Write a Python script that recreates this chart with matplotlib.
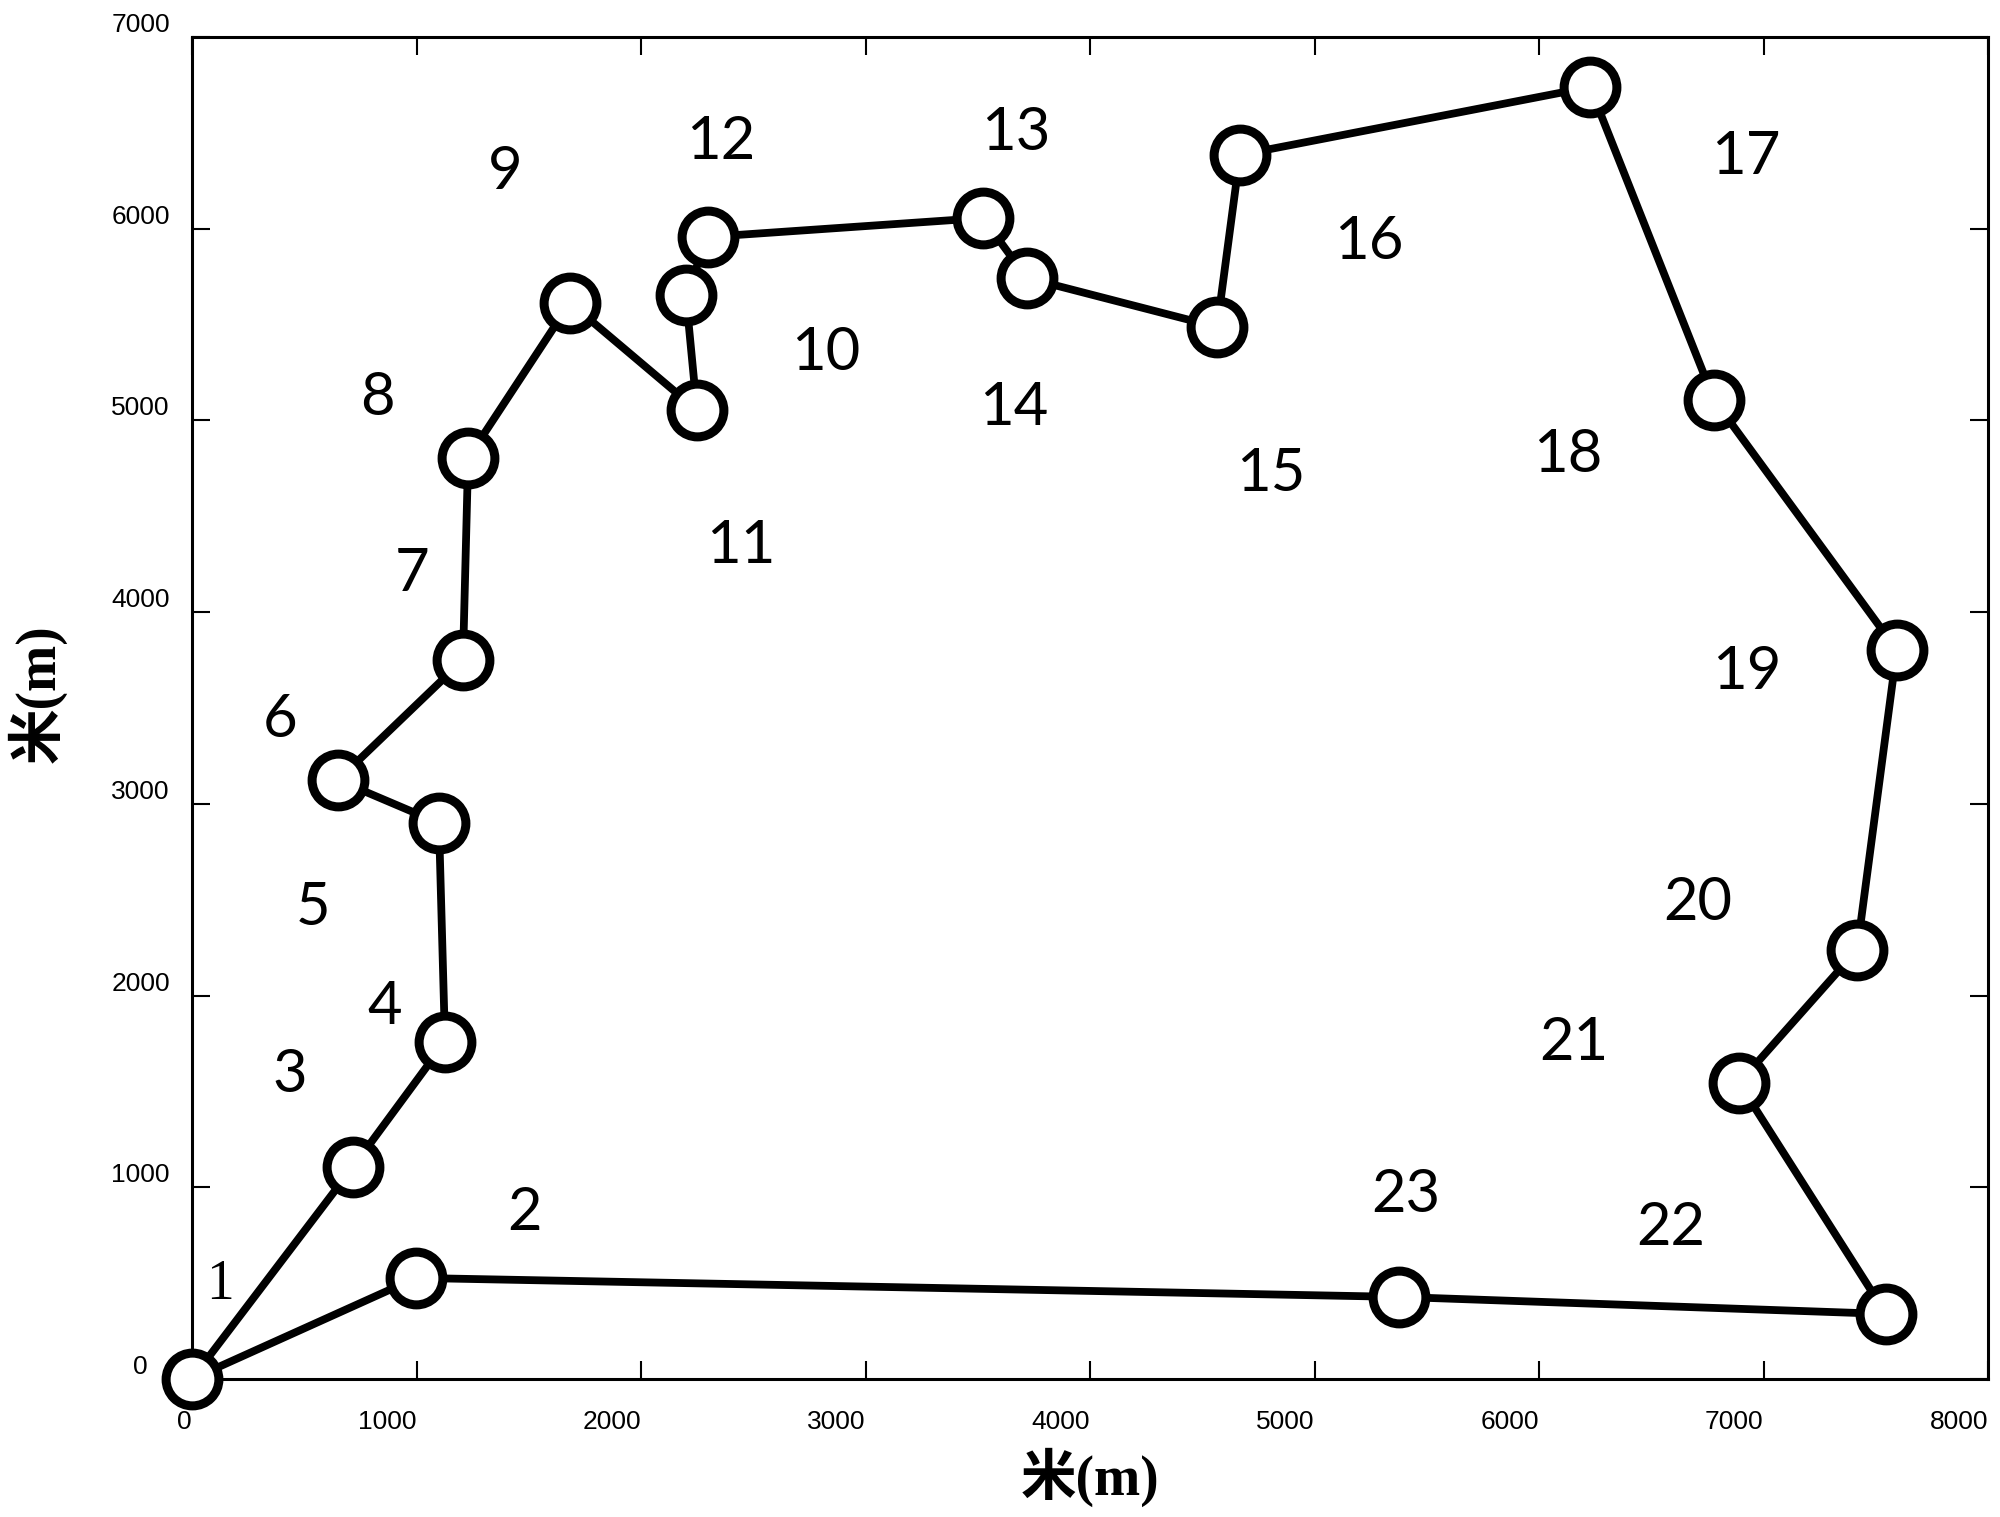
import matplotlib
matplotlib.use("Agg")
import matplotlib.pyplot as plt

# route: coordinates of the 23 nodes (m), in visiting order
node_x = [0, 717, 1127, 1100, 650, 1207, 1230, 1684, 2249, 2200, 2299, 3523,
          3719, 4566, 4668, 6227, 6780, 7594, 7417, 6891, 7546, 5377, 998]
node_y = [0, 1106, 1758, 2900, 3124, 3750, 4804, 5613, 5054, 5654, 5957, 6056,
          5743, 5487, 6385, 6739, 5107, 3803, 2238, 1544, 339, 428, 527]

# number labels and where they sit (m)
labels = [str(i) for i in range(1, 24)]
label_x = [125, 1483, 437, 860, 539, 392, 980, 825, 1394, 2824, 2446, 2356,
           3670, 3661, 4803, 5243, 6922, 6129, 6925, 6709, 6156, 6588, 5407]
label_y = [490, 866, 1586, 1940, 2457, 3437, 4199, 5117, 6296, 5352, 4345, 6452,
           6499, 5065, 4720, 5931, 6374, 4820, 3688, 2483, 1753, 788, 960]

xticks = [0, 1000, 2000, 3000, 4000, 5000, 6000, 7000, 8000]
yticks = [0, 1000, 2000, 3000, 4000, 5000, 6000, 7000]

fig = plt.figure(figsize=(20, 15.17), dpi=100)
ax = fig.add_axes([0.096, 0.0910, 0.898, 0.8846])

# closed loop back to node 1
px = node_x + [node_x[0]]
py = node_y + [node_y[0]]
ax.plot(px, py, color='black', lw=5.6, zorder=2)
ax.plot(node_x, node_y, 'o', ms=38, mfc='white', mec='black', mew=6.5,
        zorder=3, clip_on=False)

for i, txt in enumerate(labels):
    fam = 'Liberation Serif' if txt == '1' else 'Lato'
    ax.text(label_x[i], label_y[i], txt, fontsize=43 if txt != '1' else 40,
            family=fam, ha='center', va='center', zorder=4)

ax.set_xlim(0, 8000)
ax.set_ylim(0, 7000)
ax.set_xticks(xticks)
ax.set_yticks(yticks)
ax.tick_params(direction='in', length=13, width=1.5, top=True, right=True,
               labelsize=19)
ax.tick_params(axis='x', pad=22)
ax.tick_params(axis='y', pad=37)
for t in ax.get_xticklabels():
    t.set_ha('right')
    t.set_family('Liberation Sans')
for t in ax.get_yticklabels():
    t.set_va('bottom')
    t.set_ha('center')
    t.set_family('Liberation Sans')
for s in ax.spines.values():
    s.set_linewidth(2.2)

lab_font = dict(fontsize=40, fontweight='bold',
                family=['Liberation Serif', 'Noto Sans CJK SC'])
ax.set_xlabel('米(m)', **lab_font)
ax.set_ylabel('米(m)', **lab_font)
ax.xaxis.set_label_coords(0.5, -0.073)
ax.xaxis.label.set_va('center')
ax.yaxis.set_label_coords(-0.0863, 0.511)
ax.yaxis.label.set_va('center')

fig.savefig('out.png', dpi=100, facecolor='white')
